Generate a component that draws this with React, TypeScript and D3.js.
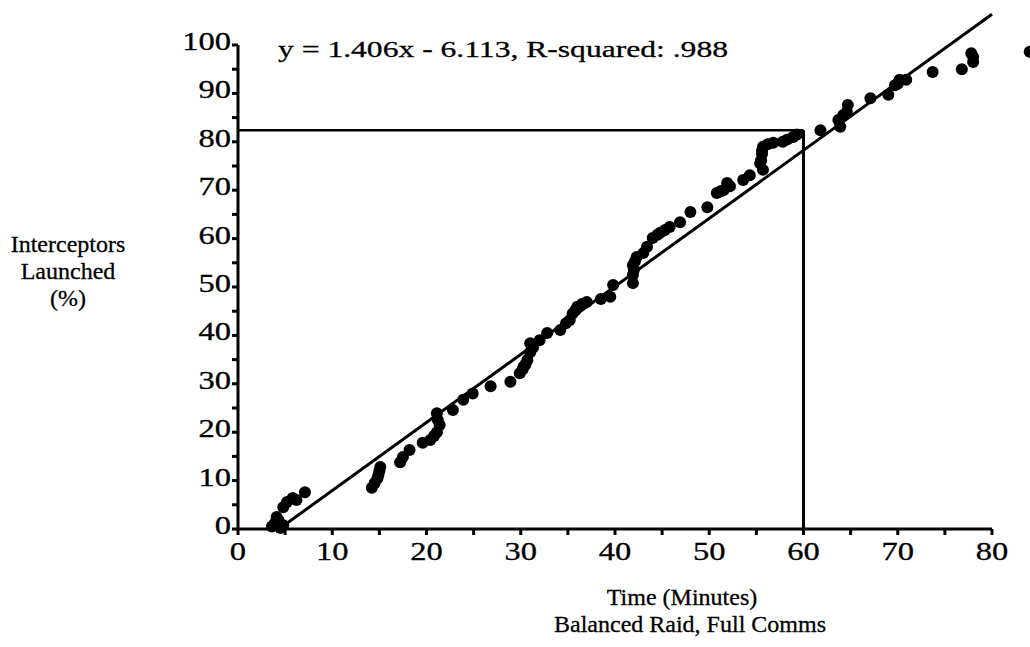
import React from 'react';
import * as d3 from 'd3';

// readings taken off the scatter (minutes, % launched)
const timeMin = [
  3.6, 3.9, 4.1, 4.3, 4.5, 4.8, 4.8, 5.2, 5.8, 6.2, 7.1,
  14.2, 14.5, 14.8, 14.9, 15.0, 15.1, 17.2, 17.5, 18.2, 19.6, 20.4, 20.8, 21.1, 21.2, 21.4, 21.1,
  22.8, 23.9, 24.9, 26.8, 28.9, 29.9, 30.2, 30.3, 30.5, 30.7, 31.0, 31.3, 31.0, 32.0, 32.8,
  34.2, 34.8, 35.2, 35.5, 35.8, 36.0, 36.5, 37.0, 38.5, 39.5, 39.8, 41.9, 41.9, 42.0, 41.9,
  42.1, 42.3, 43.0, 43.4, 44.0, 44.5, 44.8, 45.3, 45.8, 46.9, 48.0, 49.8, 50.8, 51.2, 51.5, 51.9,
  52.2, 53.6, 54.3, 55.7, 55.4, 55.5, 55.6, 55.6, 55.7, 56.2, 56.8, 57.8, 58.3, 58.9, 59.3,
  61.8, 63.7, 63.9, 64.2, 64.6, 64.7, 67.1, 69.0, 69.7, 70.0, 70.2, 70.9, 73.7, 76.8, 78.0,
  78.0, 77.8, 84.0,
];
const launchedPct = [
  0.5, 1.2, 2.5, 1.8, 0.2, 0.8, 4.5, 5.6, 6.4, 6.0, 7.6,
  8.5, 9.5, 10.5, 11.2, 12.0, 12.8, 13.8, 14.9, 16.3, 17.8, 18.4, 19.2, 20.0, 22.5, 21.5, 23.9,
  24.6, 26.7, 28.0, 29.5, 30.4, 32.2, 33.0, 33.5, 34.0, 34.9, 36.5, 37.5, 38.4, 39.0, 40.5,
  41.1, 42.5, 43.2, 44.5, 45.2, 45.9, 46.5, 46.9, 47.5, 48.0, 50.4, 50.8, 52.5, 53.5, 54.5,
  55.2, 56.2, 57.0, 58.3, 60.1, 60.8, 61.2, 61.8, 62.4, 63.4, 65.5, 66.5, 69.4, 69.8, 70.0, 71.5,
  70.8, 72.1, 73.1, 74.2, 75.5, 76.2, 77.5, 78.2, 79.0, 79.5, 79.8, 80.0, 80.5, 81.0, 81.5,
  82.4, 84.5, 83.1, 85.5, 86.2, 87.6, 89.0, 89.7, 91.7, 92.0, 92.8, 92.8, 94.4, 95.0, 96.5,
  97.5, 98.3, 98.6,
];

const xTicks = [0, 10, 20, 30, 40, 50, 60, 70, 80];
const yTicks = [0, 10, 20, 30, 40, 50, 60, 70, 80, 90, 100];
const slope = 1.406;
const intercept = -6.113;
const boxTime = 60;
const boxPct = 82.4;

const serif = '"Liberation Serif", "DejaVu Serif", serif';

const App = () => {
  const x = d3.scaleLinear().domain([0, 80]).range([238, 992]);
  const y = d3.scaleLinear().domain([0, 100]).range([529, 45]);

  const minorX = d3.range(0, 81, 5);
  const minorY = d3.range(0, 101, 5);

  const fitStart = -intercept / slope;
  const fit = [fitStart, 80].map(t => [x(t), y(slope * t + intercept)] as [number, number]);

  const points = timeMin.map((t, i) => ({ t, p: launchedPct[i] }));

  return (
    <svg
      width={1030}
      height={647}
      style={{ position: 'absolute', left: 0, top: 0, background: '#fff' }}
      fontFamily={serif}
    >
      {/* axes */}
      <line x1={x(0)} x2={x(80)} y1={y(0)} y2={y(0)} stroke="#000" strokeWidth={3} />
      <line x1={x(0)} x2={x(0)} y1={y(0)} y2={y(100)} stroke="#000" strokeWidth={3} />
      {minorX.map(v => (
        <line key={'mx' + v} x1={x(v)} x2={x(v)} y1={y(0)} y2={y(0) + 6} stroke="#000" strokeWidth={3} />
      ))}
      {minorY.map(v => (
        <line key={'my' + v} x1={x(0) - 6} x2={x(0)} y1={y(v)} y2={y(v)} stroke="#000" strokeWidth={3} />
      ))}
      {xTicks.map(v => (
        <g key={'xl' + v} transform={`translate(${x(v)},${y(0) + 31}) scale(1.3,1)`}>
          <text textAnchor="middle" fontSize={25} stroke="#000" strokeWidth={0.3}>{v}</text>
        </g>
      ))}
      {yTicks.map(v => (
        <g key={'yl' + v} transform={`translate(${x(0) - 7},${y(v) + 5}) scale(1.3,1)`}>
          <text textAnchor="end" fontSize={25} stroke="#000" strokeWidth={0.3}>{v}</text>
        </g>
      ))}

      {/* 60 minute box */}
      <line x1={x(0)} x2={x(boxTime)} y1={y(boxPct)} y2={y(boxPct)} stroke="#000" strokeWidth={2.5} />
      <line x1={x(boxTime)} x2={x(boxTime)} y1={y(boxPct)} y2={y(0)} stroke="#000" strokeWidth={3} />

      {/* regression line */}
      <path d={d3.line()(fit) ?? ''} stroke="#000" strokeWidth={3} fill="none" />

      {points.map((d, i) => (
        <circle key={i} cx={x(d.t)} cy={y(d.p)} r={6} fill="#000" />
      ))}

      <text x={278} y={57} fontSize={24} textLength={450} lengthAdjust="spacingAndGlyphs" stroke="#000" strokeWidth={0.3}>
        y = 1.406x - 6.113, R-squared: .988
      </text>

      <g fontSize={24} stroke="#000" strokeWidth={0.3} textAnchor="middle">
        <text>
          <tspan x={68} y={252}>Interceptors</tspan>
          <tspan x={68} y={279}>Launched</tspan>
          <tspan x={68} y={306}>(%)</tspan>
        </text>
        <text>
          <tspan x={682} y={605}>Time (Minutes)</tspan>
          <tspan x={690} y={632}>Balanced Raid, Full Comms</tspan>
        </text>
      </g>
    </svg>
  );
};

export default App;
